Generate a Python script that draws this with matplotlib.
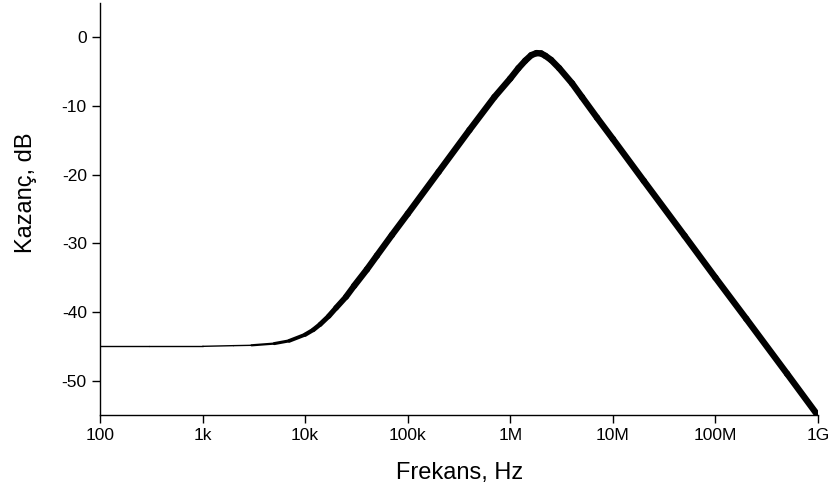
import numpy as np
import matplotlib.pyplot as plt
from matplotlib.collections import LineCollection

plt.rcParams['font.family'] = ['Liberation Sans', 'DejaVu Sans']
plt.rcParams['axes.unicode_minus'] = False

# frequency response
freq_hz = [1e2, 3e2, 1e3, 2e3, 3e3, 5e3, 7e3, 1e4, 1.2e4, 1.4e4, 1.7e4, 2e4,
           2.5e4, 3e4, 4e4, 5e4, 7e4, 1e5, 2e5, 4e5, 7e5, 1e6, 1.2e6, 1.4e6,
           1.6e6, 1.8e6, 2e6, 2.2e6, 2.5e6, 3e6, 4e6, 5e6, 7e6, 1e7, 2e7,
           5e7, 1e8, 2e8, 5e8, 1e9]
gain_db = [-45.0, -45.0, -45.0, -44.9, -44.85, -44.6, -44.2, -43.3, -42.6,
           -41.8, -40.6, -39.4, -37.8, -36.2, -33.8, -31.8, -28.8, -25.7,
           -19.6, -13.5, -8.7, -6.0, -4.5, -3.4, -2.6, -2.3, -2.35, -2.7,
           -3.3, -4.5, -6.7, -8.7, -11.7, -14.8, -20.9, -28.9, -35.0, -41.0,
           -49.0, -55.1]

xticks = [1e2, 1e3, 1e4, 1e5, 1e6, 1e7, 1e8, 1e9]
xtick_labels = ['100', '1k', '10k', '100k', '1M', '10M', '100M', '1G']
yticks = [0, -10, -20, -30, -40, -50]

fig = plt.figure(figsize=(8.37, 4.95), dpi=100)
ax = fig.add_axes([0.1195, 0.1616, 0.8578, 0.8324])

f = np.array(freq_hz)
g = np.array(gain_db)
segs = np.stack([np.column_stack([f[:-1], g[:-1]]),
                 np.column_stack([f[1:], g[1:]])], axis=1)
# line gets heavier once the curve starts climbing
mid = np.log10(np.sqrt(f[:-1] * f[1:]))
widths = np.interp(mid, [3.4, 4.5], [1.0, 4.6])
lc = LineCollection(segs, linewidths=widths, colors='black',
                    capstyle='round', joinstyle='round')
ax.add_collection(lc)

ax.set_xscale('log')
ax.set_xlim(1e2, 1e9)
ax.set_ylim(-55, 5)
ax.set_xticks(xticks)
ax.set_xticklabels(xtick_labels)
ax.xaxis.set_minor_locator(plt.NullLocator())
ax.set_yticks(yticks)
ax.set_yticklabels([str(v) for v in yticks])

ax.spines['top'].set_visible(False)
ax.spines['right'].set_visible(False)
ax.spines['left'].set_linewidth(1.0)
ax.spines['bottom'].set_linewidth(1.0)
ax.tick_params(axis='both', direction='out', length=5.5, width=1.0,
               labelsize=12.5, pad=4)

ax.set_xlabel('Frekans, Hz', fontsize=17)
ax.set_ylabel('Kazanç, dB', fontsize=17)
ax.xaxis.set_label_coords(0.501, -0.115)
ax.yaxis.set_label_coords(-0.088, 0.54)

fig.savefig('out.png', dpi=100)
